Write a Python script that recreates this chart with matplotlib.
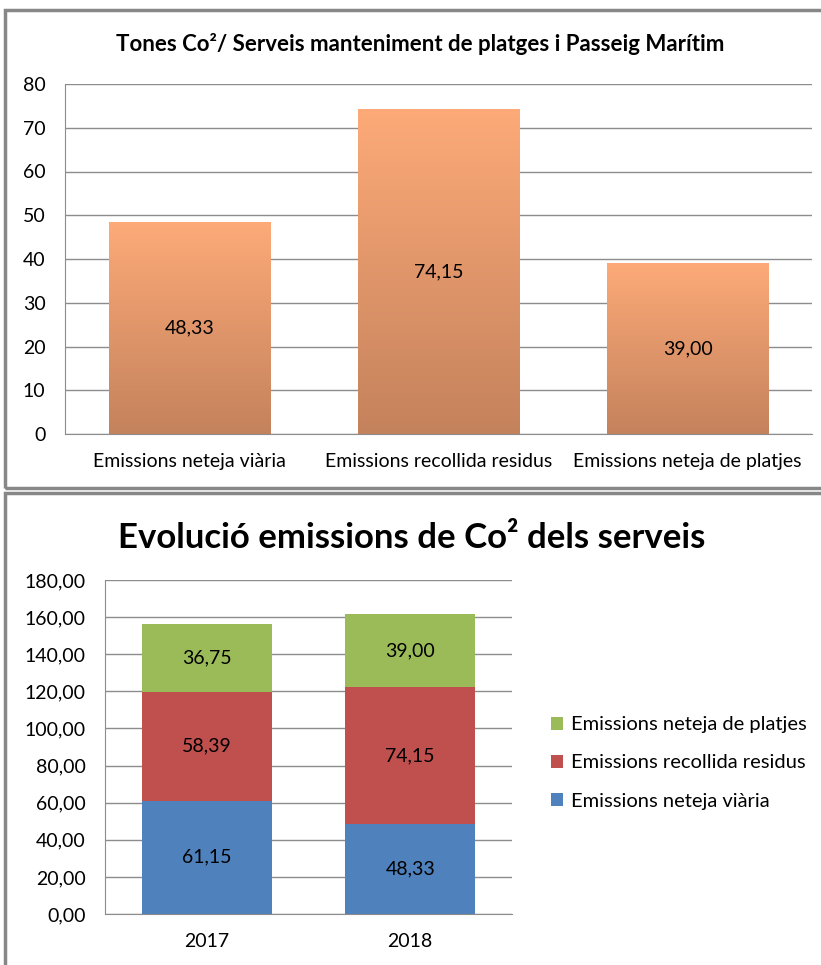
import matplotlib.pyplot as plt
import numpy as np
from matplotlib.colors import LinearSegmentedColormap
from matplotlib.patches import Rectangle

plt.rcParams["font.family"] = ["Lato", "DejaVu Sans"]

# top chart: tonnes CO2 per service (2018)
services = ["Emissions neteja viària", "Emissions recollida residus", "Emissions neteja de platjes"]
tonnes = [48.33, 74.15, 39.00]

# bottom chart: stacked evolution per year
years = ["2017", "2018"]
neteja_viaria = [61.15, 48.33]
recollida_residus = [58.39, 74.15]
neteja_platjes = [36.75, 39.00]


def fmt(v, dec=2):
    return f"{v:.{dec}f}".replace(".", ",")


fig = plt.figure(figsize=(8.21, 9.65), dpi=100)
W, H = 821, 965


def fx(px):
    return px / W


def fy(py):
    return 1 - py / H


# chart frames
for y0, y1 in [(10, 488), (493, 1000)]:
    fig.patches.append(Rectangle((fx(5), fy(y1)), fx(830) - fx(5), fy(y0) - fy(y1),
                                 transform=fig.transFigure, fill=False,
                                 edgecolor="#878787", linewidth=2.5))

grid_col = "#8c8c8c"
fs = 14

# ---- top chart ----
ax1 = fig.add_axes([fx(65), fy(434), fx(812) - fx(65), fy(84) - fy(434)])
x = np.arange(len(services))
bw = 0.65
cmap = LinearSegmentedColormap.from_list("peach", ["#c4825c", "#fdaa78"])
grad = np.linspace(0, 1, 256).reshape(-1, 1)
for xi, v in zip(x, tonnes):
    ax1.imshow(grad, extent=[xi - bw / 2, xi + bw / 2, 0, v], origin="lower",
               cmap=cmap, aspect="auto", zorder=2)
    ax1.text(xi, v / 2, fmt(v), ha="center", va="center", fontsize=fs, zorder=3)
ax1.set_xlim(-0.5, len(services) - 0.5)
ax1.set_ylim(0, 80)
ax1.set_yticks(range(0, 81, 10))
ax1.set_xticks(x)
ax1.set_xticklabels(services, fontsize=fs)
ax1.tick_params(axis="y", labelsize=fs, length=0, pad=14)
ax1.tick_params(axis="x", length=0, pad=14)
ax1.yaxis.grid(True, color=grid_col, linewidth=1)
ax1.set_axisbelow(True)
for s in ["top", "right"]:
    ax1.spines[s].set_visible(False)
ax1.spines["left"].set_color(grid_col)
ax1.spines["bottom"].set_color(grid_col)
fig.text(fx(420), fy(44), "Tones Co²/ Serveis manteniment de platges i Passeig Marítim",
         ha="center", va="center", fontsize=16, fontweight="bold")

# ---- bottom chart ----
ax2 = fig.add_axes([fx(105), fy(914), fx(512) - fx(105), fy(580) - fy(914)])
xb = np.arange(len(years))
bw2 = 0.64
series = [
    (neteja_viaria, "#4f81bd", "Emissions neteja viària"),
    (recollida_residus, "#c0504d", "Emissions recollida residus"),
    (neteja_platjes, "#9bbb59", "Emissions neteja de platjes"),
]
bottom = np.zeros(len(years))
handles = []
for vals, col, lab in series:
    vals = np.array(vals)
    b = ax2.bar(xb, vals, bw2, bottom=bottom, color=col, label=lab, zorder=2)
    handles.append(b)
    for xi, v, bt in zip(xb, vals, bottom):
        ax2.text(xi, bt + v / 2, fmt(v), ha="center", va="center", fontsize=fs, zorder=3)
    bottom += vals
ax2.set_xlim(-0.5, len(years) - 0.5)
ax2.set_ylim(0, 180)
ax2.set_yticks(range(0, 181, 20))
ax2.set_yticklabels([fmt(t) for t in range(0, 181, 20)])
ax2.set_xticks(xb)
ax2.set_xticklabels(years, fontsize=fs)
ax2.tick_params(axis="y", labelsize=fs, length=0, pad=14)
ax2.tick_params(axis="x", length=0, pad=14)
ax2.yaxis.grid(True, color=grid_col, linewidth=1)
ax2.set_axisbelow(True)
for s in ["top", "right"]:
    ax2.spines[s].set_visible(False)
ax2.spines["left"].set_color(grid_col)
ax2.spines["bottom"].set_color(grid_col)
fig.text(fx(412), fy(538), "Evolució emissions de Co² dels serveis",
         ha="center", va="center", fontsize=25, fontweight="bold")

fig.legend(handles[::-1], [h.get_label() for h in handles[::-1]],
           loc="center left", bbox_to_anchor=(fx(533), fy(763)), frameon=False,
           fontsize=14.5, handlelength=0.6, handleheight=0.6, handletextpad=0.4,
           labelspacing=1.05)

fig.savefig("out.png", dpi=100)
